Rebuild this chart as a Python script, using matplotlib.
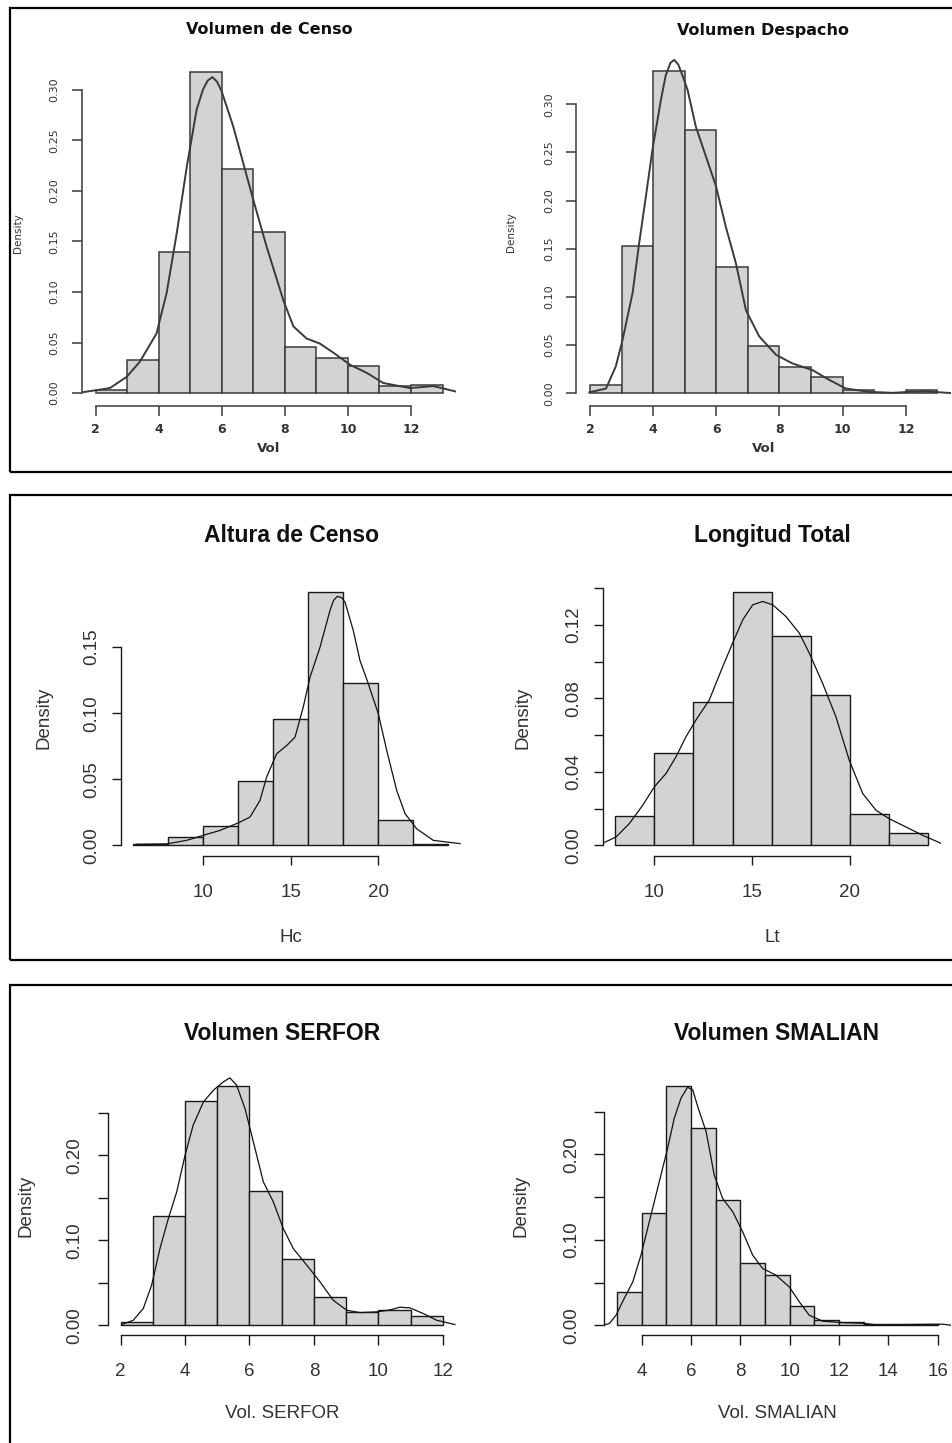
import matplotlib
matplotlib.use("Agg")
import matplotlib.pyplot as plt
from matplotlib.patches import Rectangle

W, H = 952, 1443

# ---- data ----
censo_breaks = [2, 3, 4, 5, 6, 7, 8, 9, 10, 11, 12, 13]
censo_dens = [0.003, 0.033, 0.140, 0.318, 0.222, 0.159, 0.046, 0.035, 0.027, 0.007, 0.008]
censo_kx = [1.61, 2.45, 2.98, 3.40, 3.93, 4.25, 4.57, 4.89, 5.20, 5.40, 5.55, 5.70, 5.85, 6.0, 6.36, 7.00,
            7.42, 7.95, 8.27, 8.69, 9.11, 9.54, 10.07, 10.60, 11.12, 11.97, 12.71, 13.50]
censo_ky = [0.001, 0.005, 0.016, 0.031, 0.059, 0.099, 0.158, 0.224, 0.280, 0.300, 0.309, 0.3125, 0.308, 0.298,
            0.264, 0.191, 0.145, 0.092, 0.066, 0.054, 0.049, 0.040, 0.028, 0.020, 0.010, 0.005, 0.007, 0.001]

despacho_breaks = [2, 3, 4, 5, 6, 7, 8, 9, 10, 11, 12, 13]
despacho_dens = [0.009, 0.153, 0.334, 0.273, 0.131, 0.049, 0.027, 0.017, 0.003, 0.0, 0.003]
despacho_kx = [1.98, 2.51, 2.82, 3.03, 3.35, 3.56, 3.77, 3.98, 4.25, 4.40, 4.55, 4.67, 4.80, 4.95, 5.09, 5.35,
               5.67, 5.99, 6.30, 6.62, 6.94, 7.36, 7.89, 8.41, 9.05, 9.57, 10.10, 10.84, 11.58, 12.10, 12.63, 13.42]
despacho_ky = [0.001, 0.005, 0.028, 0.055, 0.104, 0.156, 0.204, 0.253, 0.305, 0.330, 0.343, 0.346, 0.341, 0.328,
               0.315, 0.277, 0.246, 0.215, 0.173, 0.135, 0.086, 0.059, 0.040, 0.031, 0.024, 0.014, 0.005, 0.0015,
               0.0005, 0.0015, 0.002, 0.0003]

altura_breaks = [6, 8, 10, 12, 14, 16, 18, 20, 22, 24]
altura_dens = [0.001, 0.006, 0.015, 0.049, 0.096, 0.192, 0.123, 0.019, 0.001]
altura_kx = [6.19, 7.91, 9.05, 10.0, 10.95, 12.0, 12.67, 13.24, 13.62, 14.19, 14.77, 15.24, 15.71, 16.1, 16.67,
             17.24, 17.45, 17.66, 17.9, 18.1, 18.57, 18.95, 19.43, 20.0, 20.48, 21.05, 21.53, 22.19, 23.14, 24.67]
altura_ky = [0.0008, 0.0011, 0.0038, 0.0076, 0.0113, 0.017, 0.0214, 0.034, 0.0517, 0.0693, 0.0756, 0.0819, 0.1046,
             0.1273, 0.150, 0.1778, 0.1855, 0.1884, 0.1875, 0.184, 0.1626, 0.140, 0.1223, 0.0996, 0.0719, 0.0416,
             0.024, 0.0126, 0.0038, 0.0013]

longitud_breaks = [8, 10, 12, 14, 16, 18, 20, 22, 24]
longitud_dens = [0.016, 0.050, 0.078, 0.138, 0.114, 0.082, 0.017, 0.0065]
longitud_kx = [7.39, 8.04, 8.72, 9.41, 10.0, 10.6, 11.11, 11.62, 12.13, 12.81, 13.5, 14.0, 14.52, 15.03, 15.54,
               16.05, 16.73, 17.41, 17.92, 18.6, 19.28, 19.96, 20.65, 21.33, 22.0, 22.86, 23.71, 24.65]
longitud_ky = [0.0013, 0.0045, 0.0118, 0.0218, 0.0318, 0.0391, 0.0482, 0.0591, 0.0682, 0.0791, 0.0973, 0.110,
               0.1227, 0.1309, 0.1327, 0.1309, 0.1245, 0.1155, 0.1046, 0.0882, 0.070, 0.0464, 0.0282, 0.0191,
               0.0145, 0.010, 0.0055, 0.0011]

serfor_breaks = [2, 3, 4, 5, 6, 7, 8, 9, 10, 11, 12]
serfor_dens = [0.004, 0.129, 0.264, 0.281, 0.158, 0.078, 0.033, 0.015, 0.018, 0.011]
serfor_kx = [2.03, 2.39, 2.70, 2.96, 3.22, 3.48, 3.74, 4.0, 4.25, 4.57, 4.88, 5.19, 5.39, 5.6, 5.86, 6.12, 6.43,
             6.74, 7.05, 7.36, 7.78, 8.19, 8.6, 9.02, 9.43, 9.95, 10.36, 10.67, 10.98, 11.4, 11.81, 12.38]
serfor_ky = [0.0008, 0.0059, 0.0196, 0.047, 0.0902, 0.1255, 0.1569, 0.200, 0.2353, 0.2627, 0.2765, 0.2863, 0.291,
             0.2824, 0.2549, 0.2157, 0.1686, 0.1451, 0.1137, 0.0902, 0.0706, 0.051, 0.0294, 0.0176, 0.0149,
             0.0157, 0.018, 0.0212, 0.0204, 0.0137, 0.0059, 0.0008]

smalian_breaks = [3, 4, 5, 6, 7, 8, 9, 10, 11, 12, 13, 14, 15, 16]
smalian_dens = [0.039, 0.131, 0.280, 0.231, 0.147, 0.073, 0.059, 0.022, 0.006, 0.004, 0.001, 0.0016, 0.0016]
smalian_kx = [2.42, 2.69, 2.96, 3.29, 3.64, 3.97, 4.24, 4.51, 4.78, 5.05, 5.32, 5.59, 5.86, 6.07, 6.27, 6.61,
              6.94, 7.28, 7.69, 8.09, 8.5, 8.9, 9.44, 9.98, 10.39, 10.79, 11.34, 12.15, 12.96, 13.5, 14.85,
              16.2, 16.54]
smalian_ky = [0.0, 0.002, 0.0117, 0.0313, 0.0508, 0.082, 0.1133, 0.1445, 0.1758, 0.207, 0.2422, 0.2656, 0.2785,
              0.2754, 0.2559, 0.2266, 0.1758, 0.1484, 0.1328, 0.1094, 0.082, 0.0664, 0.0586, 0.0449, 0.0273,
              0.0117, 0.0047, 0.0031, 0.0023, 0.0004, 0.0008, 0.0012, 0.0]

titles = ["Volumen de Censo", "Volumen Despacho", "Altura de Censo", "Longitud Total",
          "Volumen SERFOR", "Volumen SMALIAN"]
xlabels = ["Vol", "Vol", "Hc", "Lt", "Vol. SERFOR", "Vol. SMALIAN"]

censo_xt = [2, 4, 6, 8, 10, 12]
censo_yt = [0, 0.05, 0.10, 0.15, 0.20, 0.25, 0.30]
censo_ytl = ["0.00", "0.05", "0.10", "0.15", "0.20", "0.25", "0.30"]
altura_xt = [10, 15, 20]
altura_yt = [0, 0.05, 0.10, 0.15]
altura_ytl = ["0.00", "0.05", "0.10", "0.15"]
longitud_yt = [0, 0.02, 0.04, 0.06, 0.08, 0.10, 0.12, 0.14]
longitud_ytl = ["0.00", "", "0.04", "", "0.08", "", "0.12", ""]
serfor_yt = [0, 0.05, 0.10, 0.15, 0.20, 0.25]
serfor_ytl = ["0.00", "", "0.10", "", "0.20", ""]
smalian_xt = [4, 6, 8, 10, 12, 14, 16]


def fx(x):
    return x / W


def fy(y):
    return 1 - y / H


def px_axes(fig, left, top, right, bottom):
    return fig.add_axes([left / W, 1 - bottom / H, (right - left) / W, (bottom - top) / H])


def draw_hist(ax, breaks, dens, kx, ky, xt, yt, ytl, st):
    widths = [breaks[i + 1] - breaks[i] for i in range(len(dens))]
    ax.bar(breaks[:-1], dens, width=widths, align="edge", color="#d3d3d3",
           edgecolor=st["ec"], linewidth=st["lw"])
    ax.plot(kx, ky, color=st["kc"], linewidth=st["klw"], solid_joinstyle="round")
    span = breaks[-1] - breaks[0]
    ax.set_xlim(breaks[0] - 0.04 * span, breaks[-1] + 0.04 * span)
    top = max(dens)
    ax.set_ylim(-0.04 * top, 1.04 * top)
    for s in ["top", "right"]:
        ax.spines[s].set_visible(False)
    ax.spines["left"].set_bounds(yt[0], yt[-1])
    ax.spines["bottom"].set_bounds(xt[0], xt[-1])
    for s in ["left", "bottom"]:
        ax.spines[s].set_color(st["ec"])
        ax.spines[s].set_linewidth(st["lw"])
    ax.set_xticks(xt)
    ax.set_xticklabels([str(v) for v in xt], fontsize=st["xfs"], fontweight=st["xfw"],
                       family=st["font"], color=st["tc"])
    ax.set_yticks(yt)
    ax.set_yticklabels(ytl, rotation=90, va="center", fontsize=st["yfs"],
                       family=st["font"], color=st["tc"])
    ax.tick_params(axis="x", length=st["tl"], width=st["lw"], color=st["ec"], pad=st["xpad"])
    ax.tick_params(axis="y", length=st["tl"], width=st["lw"], color=st["ec"], pad=st["ypad"])
    ax.patch.set_alpha(0)


top_st = dict(ec="#3a3a3a", lw=1.1, kc="#3a3a3a", klw=1.4, font="DejaVu Sans", tc="#333333",
              xfs=9, xfw="bold", yfs=8, tl=7, xpad=5, ypad=9)
mid_st = dict(ec="#1a1a1a", lw=1.0, kc="#111111", klw=0.9, font="Liberation Sans", tc="#333333",
              xfs=13.5, xfw="normal", yfs=13.5, tl=6.5, xpad=14, ypad=8.5)
bot_st = dict(mid_st, tl=7.5, xpad=13, ypad=10)

fig = plt.figure(figsize=(W / 100, H / 100), dpi=100)

# frames around each pair of plots
for (y0, y1) in [(8, 471.5), (495, 959.5), (985, 1460)]:
    fig.patches.append(Rectangle((fx(9.5), fy(y1)), fx(970 - 9.5), (y1 - y0) / H, fill=False,
                                 edgecolor="black", linewidth=1.6, transform=fig.transFigure))

ax = px_axes(fig, 81.8, 58.7, 456.4, 406)
draw_hist(ax, censo_breaks, censo_dens, censo_kx, censo_ky, censo_xt, censo_yt, censo_ytl, top_st)
ax = px_axes(fig, 576, 58.6, 951.4, 406.2)
draw_hist(ax, despacho_breaks, despacho_dens, despacho_kx, despacho_ky, censo_xt, censo_yt, censo_ytl, top_st)
ax = px_axes(fig, 120.7, 581.5, 460.9, 855.5)
draw_hist(ax, altura_breaks, altura_dens, altura_kx, altura_ky, altura_xt, altura_yt, altura_ytl, mid_st)
ax = px_axes(fig, 602.6, 581.6, 940.8, 855.5)
draw_hist(ax, longitud_breaks, longitud_dens, longitud_kx, longitud_ky, altura_xt, longitud_yt, longitud_ytl, mid_st)
ax = px_axes(fig, 107.8, 1076.8, 455.6, 1334.8)
draw_hist(ax, serfor_breaks, serfor_dens, serfor_kx, serfor_ky, censo_xt, serfor_yt, serfor_ytl, bot_st)
ax = px_axes(fig, 604.2, 1076.4, 950.6, 1334.8)
draw_hist(ax, smalian_breaks, smalian_dens, smalian_kx, smalian_ky, smalian_xt, serfor_yt, serfor_ytl, bot_st)

# titles, axis labels (pixel positions of their centres)
title_pos = [(269, 30), (763, 30), (291, 536), (772, 536), (282, 1033), (777, 1033)]
xlab_pos = [(269, 448), (764, 448), (291, 938), (772, 938), (282, 1414), (777, 1414)]
ylab_pos = [(18, 233), (511, 232), (44, 718), (523, 718), (26, 1206), (521, 1206)]
for i in range(6):
    if i < 2:
        fam, tfs, lfs, dfs, lw = "DejaVu Sans", 11.5, 9.5, 7.5, "bold"
    else:
        fam, tfs, lfs, dfs, lw = "Liberation Sans", 16.5, 13.5, 13.5, "normal"
    fig.text(fx(title_pos[i][0]), fy(title_pos[i][1]), titles[i], ha="center", va="center",
             fontsize=tfs, fontweight="bold", family=fam, color="#111111")
    fig.text(fx(xlab_pos[i][0]), fy(xlab_pos[i][1]), xlabels[i], ha="center", va="center",
             fontsize=lfs, fontweight=lw, family=fam, color="#333333")
    fig.text(fx(ylab_pos[i][0]), fy(ylab_pos[i][1]), "Density", ha="center", va="center",
             rotation=90, fontsize=dfs, family=fam, color="#333333")

fig.savefig("out.png", dpi=100)
